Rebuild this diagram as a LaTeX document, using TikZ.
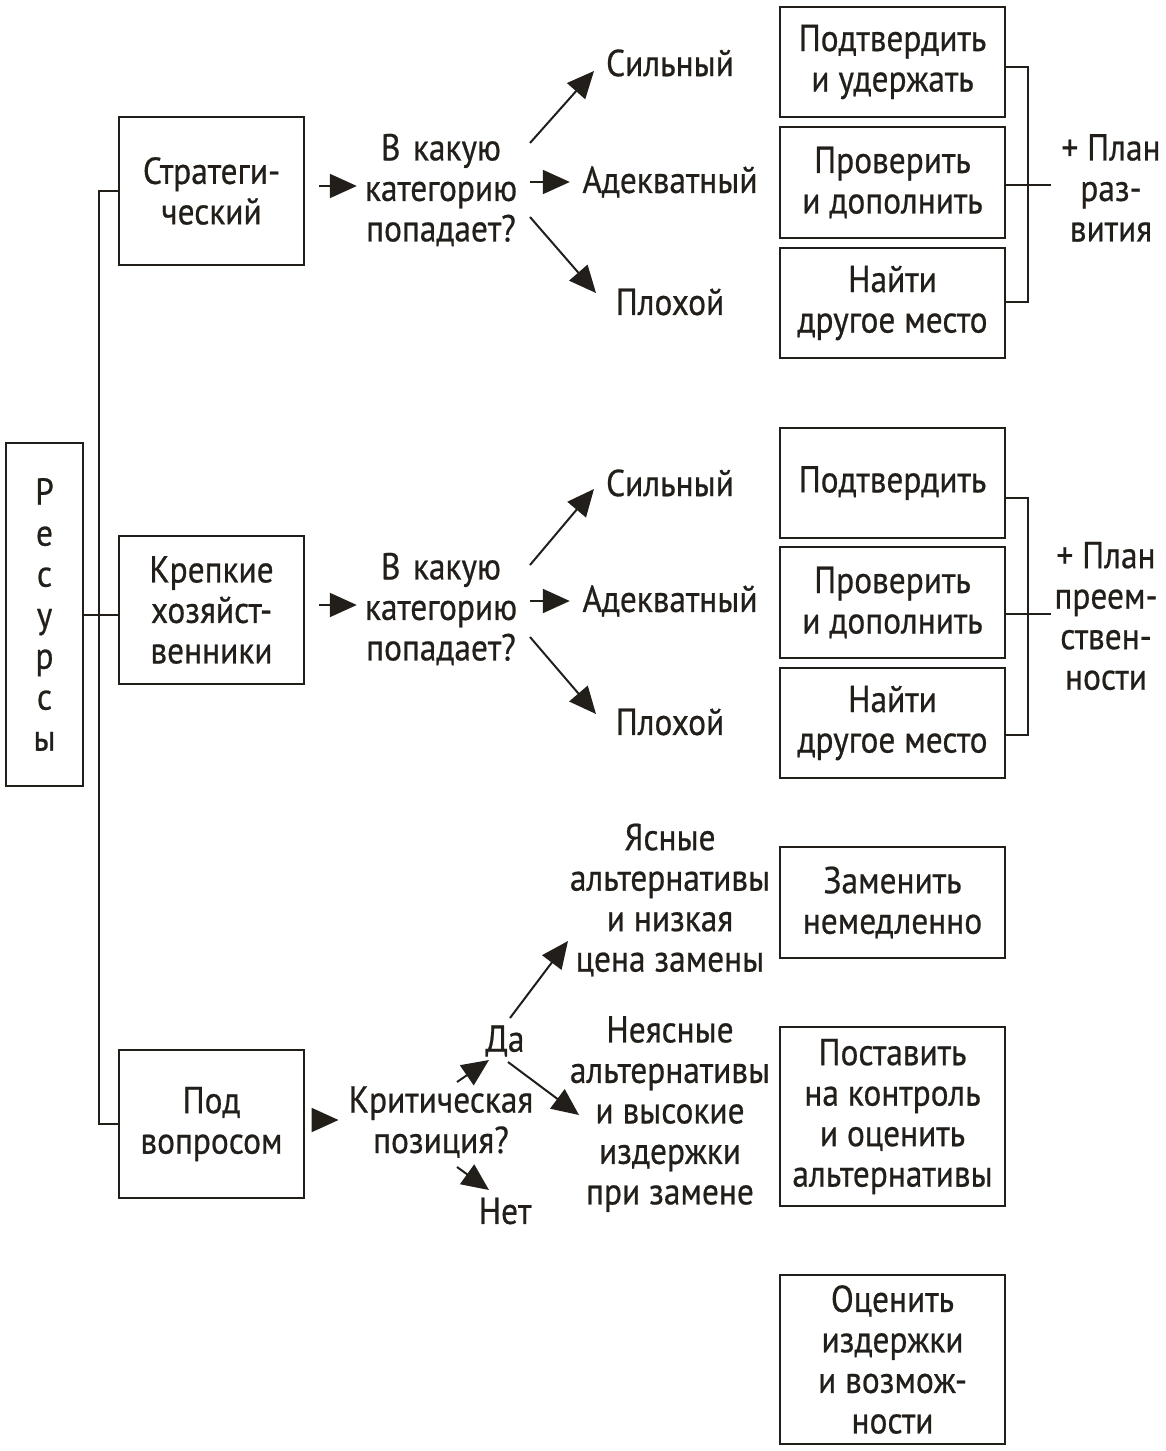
\documentclass[tikz,border=0pt]{standalone}
\usepackage{fontspec}
\setmainfont{PT Sans}[FakeStretch=0.89,FakeBold=0.6]
\usetikzlibrary{arrows.meta}
\definecolor{ink}{HTML}{221E1A}
\newcommand{\mainsize}{\fontsize{37.5}{40.5}\selectfont}
\begin{document}
\begin{tikzpicture}[x=1pt,y=-1pt,
  every node/.style={text=ink, font=\mainsize, inner sep=0pt, align=center},
  boxnode/.style={draw=ink, line width=2.2pt, minimum width=#1},
  boxnode/.default=185pt,
  lbl/.style={text width=#1},
  lbl/.default=176pt,
  conn/.style={draw=ink, line width=2pt},
  arr/.style={draw=ink, line width=2pt, -{Triangle[length=27pt,width=24pt]}},
]
\useasboundingbox (0,0) rectangle (1165,1451);

% left column
\node[boxnode=77pt, minimum height=343pt, font=\fontsize{37.5}{41}\selectfont] (res) at (44.5,614.5) {Р\\е\\с\\у\\р\\с\\ы};
\node[boxnode, minimum height=148pt] (s1) at (211.5,191) {Стратеги-\\ческий};
\node[boxnode, minimum height=148pt] (s2) at (211.5,610) {Крепкие\\хозяйст-\\венники};
\node[boxnode, minimum height=148pt] (s3) at (211.5,1124) {Под\\вопросом};

\draw[conn] (s1.west) -- ++(-19,0) |- (s3.west);
\draw[conn] (res.east) -- (res.east -| s2.west);

% section 1
\node[lbl=152pt] (q1) at (441,190) {В какую\\категорию\\попадает?};
\node[lbl] (st1) at (670,63) {Сильный};
\node[lbl] (ad1) at (670,182) {Адекватный};
\node[lbl] (pl1) at (670,302) {Плохой};
\node[boxnode=225pt, minimum height=110pt] (r11) at (892.5,62) {Подтвердить\\и удержать};
\node[boxnode=225pt, minimum height=111pt] (r12) at (892.5,182.5) {Проверить\\и дополнить};
\node[boxnode=225pt, minimum height=110pt] (r13) at (892.5,303) {Найти\\другое место};
\node (pn1) at (1111,188) {+ План\\раз-\\вития};

\draw[arr] ([xshift=14pt,yshift=4pt]q1.west -| s1.east) -- ([xshift=-8pt,yshift=4pt]q1.west);
\draw[arr] ([xshift=13pt]q1.east |- ad1.west) -- ([xshift=-12pt]ad1.west);
\coordinate (u1a) at (530,143); \coordinate (u1b) at (594,71);
\coordinate (d1a) at (530,217); \coordinate (d1b) at (596,293);
\draw[arr] (u1a) -- (u1b);
\draw[arr] (d1a) -- (d1b);
\draw[conn] ([yshift=-5pt]r11.east) -- ++(22,0) |- ([yshift=1pt]r13.east);
\draw[conn] ([yshift=-2.5pt]r12.east) -- ++(45,0);

% section 2
\node[lbl=152pt] (q2) at (441,609) {В какую\\категорию\\попадает?};
\node[lbl] (st2) at (670,483) {Сильный};
\node[lbl] (ad2) at (670,601) {Адекватный};
\node[lbl] (pl2) at (670,722) {Плохой};
\node[boxnode=225pt, minimum height=110pt] (r21) at (892.5,483) {Подтвердить};
\node[boxnode=225pt, minimum height=111pt] (r22) at (892.5,602.5) {Проверить\\и дополнить};
\node[boxnode=225pt, minimum height=110pt] (r23) at (892.5,723) {Найти\\другое место};
\node (pn2) at (1106,616) {+ План\\преем-\\ствен-\\ности};

\draw[arr] ([xshift=14pt,yshift=4pt]q2.west -| s2.east) -- ([xshift=-8pt,yshift=4pt]q2.west);
\draw[arr] ([xshift=13pt]q2.east |- ad2.west) -- ([xshift=-12pt]ad2.west);
\coordinate (u2a) at (530,565); \coordinate (u2b) at (594,489);
\coordinate (d2a) at (530,637); \coordinate (d2b) at (596,714);
\draw[arr] (u2a) -- (u2b);
\draw[arr] (d2a) -- (d2b);
\draw[conn] ([yshift=-15pt]r21.east) -- ++(22,0) |- ([yshift=-12pt]r23.east);
\draw[conn] ([yshift=-11.5pt]r22.east) -- ++(45,0);

% section 3
\node (cr) at (441,1122) {Критическая\\позиция?};
\node (da) at (505,1041) {Да};
\node (net) at (505,1211) {Нет};
\node (cl) at (670,900) {Ясные\\альтернативы\\и низкая\\цена замены};
\node (un) at (670,1114) {Неясные\\альтернативы\\и высокие\\издержки\\при замене};
\node[boxnode=225pt, minimum height=111pt] (r31) at (892.5,902.5) {Заменить\\немедленно};
\node[boxnode=225pt, minimum height=179pt] (r32) at (892.5,1116.5) {Поставить\\на контроль\\и оценить\\альтернативы};
\node[boxnode=225pt, minimum height=169pt] (r33) at (892.5,1359.5) {Оценить\\издержки\\и возмож-\\ности};

\draw[arr] ([xshift=14pt,yshift=4pt]s3.east) -- ([xshift=-10pt,yshift=4pt]s3.east -| cr.west);
\coordinate (c1a) at (457,1082); \coordinate (c1b) at (489,1060);
\coordinate (c2a) at (457,1167); \coordinate (c2b) at (489,1190);
\coordinate (c3a) at (508,1062); \coordinate (c3b) at (579,1115);
\coordinate (c4a) at (510,1018); \coordinate (c4b) at (568,941);
\draw[arr] (c1a) -- (c1b);
\draw[arr] (c2a) -- (c2b);
\draw[arr] (c3a) -- (c3b);
\draw[arr] (c4a) -- (c4b);
\end{tikzpicture}
\end{document}
